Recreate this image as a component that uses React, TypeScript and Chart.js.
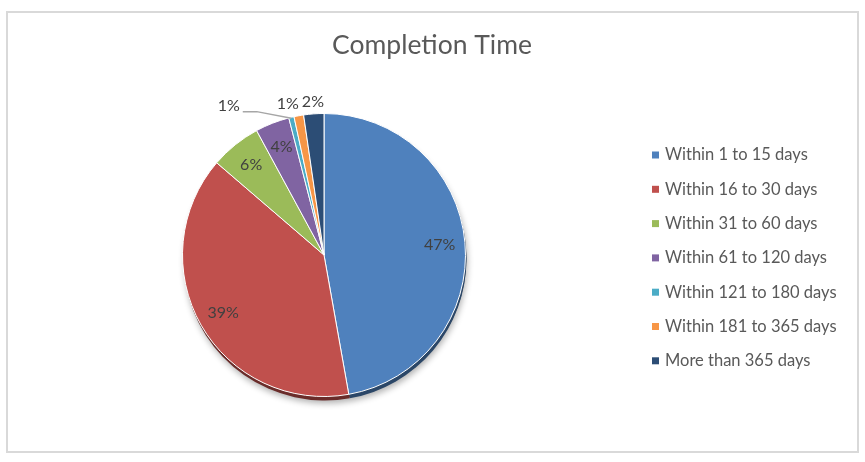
import { useEffect, useRef } from "react"
import { Chart, registerables } from "chart.js"

Chart.register(...registerables)

const categories = [
  "Within 1 to 15 days",
  "Within 16 to 30 days",
  "Within 31 to 60 days",
  "Within 61 to 120 days",
  "Within 121 to 180 days",
  "Within 181 to 365 days",
  "More than 365 days",
]
const shares = [47.2, 39.1, 5.8, 3.9, 0.6, 1.1, 2.3]
const sliceColors = ["#4F81BD", "#C0504D", "#9BBB59", "#8064A2", "#4BACC6", "#F79646", "#2C4D75"]

const FONT = "Lato, 'Open Sans', sans-serif"

function darken(hex: string, f: number) {
  const n = parseInt(hex.slice(1), 16)
  const r = Math.round(((n >> 16) & 255) * f)
  const g = Math.round(((n >> 8) & 255) * f)
  const b = Math.round((n & 255) * f)
  return `rgb(${r},${g},${b})`
}

// dark rim + soft shadow under the pie, like the Excel bevel
const shadowPlugin = {
  id: "pieShadow",
  beforeDatasetsDraw(chart: any) {
    const ctx = chart.ctx
    const meta = chart.getDatasetMeta(0)
    if (!meta.data.length) return
    const first = meta.data[0]
    ctx.save()
    ctx.shadowColor = "rgba(0,0,0,0.3)"
    ctx.shadowBlur = 6
    ctx.shadowOffsetX = 1
    ctx.shadowOffsetY = 4
    ctx.fillStyle = "#555"
    ctx.beginPath()
    ctx.arc(first.x + 1, first.y + 3, first.outerRadius, 0, Math.PI * 2)
    ctx.fill()
    ctx.restore()
    ctx.save()
    meta.data.forEach((arc: any, i: number) => {
      ctx.fillStyle = darken(sliceColors[i], 0.55)
      ctx.beginPath()
      ctx.moveTo(arc.x + 1, arc.y + 4)
      ctx.arc(arc.x + 1, arc.y + 4, arc.outerRadius, arc.startAngle, arc.endAngle)
      ctx.closePath()
      ctx.fill()
    })
    ctx.restore()
  },
}

const labelPlugin = {
  id: "sliceLabels",
  afterDatasetsDraw(chart: any) {
    const ctx = chart.ctx
    const meta = chart.getDatasetMeta(0)
    const total = shares.reduce((a, b) => a + b, 0)
    ctx.save()
    ctx.font = `16px ${FONT}`
    ctx.fillStyle = "#404040"
    ctx.textAlign = "center"
    ctx.textBaseline = "middle"
    const outside: any[] = []
    meta.data.forEach((arc: any, i: number) => {
      const mid = (arc.startAngle + arc.endAngle) / 2
      const pct = (shares[i] / total) * 100
      const text = `${Math.round(pct)}%`
      if (pct >= 3) {
        const r = arc.outerRadius * 0.82
        ctx.fillText(text, arc.x + Math.cos(mid) * r, arc.y + Math.sin(mid) * r)
      } else {
        outside.push({ arc, mid, text })
      }
    })
    // small slices: outside, pushed left when they collide
    let limit = Infinity
    outside.reverse().forEach(({ arc, mid, text }) => {
      const r = arc.outerRadius + 12
      const w = ctx.measureText(text).width
      let lx = arc.x + Math.cos(mid) * r
      const ly = arc.y + Math.sin(mid) * r
      const want = lx
      if (lx + w / 2 > limit - 3) lx = limit - 3 - w / 2
      if (want - lx > 15) {
        lx -= 34
        const ex = arc.x + Math.cos(mid) * arc.outerRadius
        const ey = arc.y + Math.sin(mid) * arc.outerRadius
        ctx.strokeStyle = "#A6A6A6"
        ctx.lineWidth = 1.5
        ctx.beginPath()
        ctx.moveTo(lx + w / 2 + 3, ly + 6)
        ctx.lineTo(lx + w / 2 + 17, ly + 6)
        ctx.lineTo(ex, ey + 1)
        ctx.stroke()
      }
      ctx.fillText(text, lx, ly)
      limit = lx - w / 2
    })
    ctx.restore()
  },
}

const decorPlugin = {
  id: "titleLegend",
  afterDraw(chart: any) {
    const ctx = chart.ctx
    ctx.save()
    ctx.fillStyle = "#595959"
    ctx.font = `26.5px ${FONT}`
    ctx.textAlign = "center"
    ctx.textBaseline = "middle"
    ctx.fillText("Completion Time", 432, 45)
    ctx.font = `16.5px ${FONT}`
    ctx.textAlign = "left"
    categories.forEach((label, i) => {
      const y = 155 + i * 34.3
      ctx.fillStyle = sliceColors[i]
      ctx.fillRect(652, y - 3.5, 7, 7)
      ctx.fillStyle = "#595959"
      ctx.fillText(label, 665, y)
    })
    ctx.restore()
  },
}

function PieChart() {
  const chartRef = useRef<HTMLCanvasElement>(null)
  const chartInstance = useRef<Chart | null>(null)

  useEffect(() => {
    if (!chartRef.current) return
    if (chartInstance.current) chartInstance.current.destroy()
    const ctx = chartRef.current.getContext("2d")
    if (!ctx) return

    chartInstance.current = new Chart(ctx, {
      type: "pie",
      data: {
        labels: categories,
        datasets: [
          {
            data: shares,
            backgroundColor: sliceColors,
            borderColor: "#FFFFFF",
            borderWidth: 1,
          },
        ],
      },
      options: {
        responsive: false,
        animation: false,
        layout: { padding: { left: 181, right: 398, top: 113, bottom: 65 } },
        plugins: {
          legend: { display: false },
          title: { display: false },
          tooltip: { enabled: false },
        },
      },
      plugins: [shadowPlugin, labelPlugin, decorPlugin],
    })

    return () => {
      if (chartInstance.current) chartInstance.current.destroy()
    }
  }, [])

  return <canvas ref={chartRef} width={865} height={462} style={{ display: "block" }} />
}

export default function App() {
  return (
    <div style={{ position: "fixed", left: 0, top: 0, width: 865, height: 462, background: "#fff" }}>
      <div
        style={{
          position: "absolute",
          left: 6,
          top: 11,
          width: 849,
          height: 438,
          border: "2px solid #D9D9D9",
        }}
      />
      <div style={{ position: "absolute", left: 0, top: 0 }}>
        <PieChart />
      </div>
    </div>
  )
}
